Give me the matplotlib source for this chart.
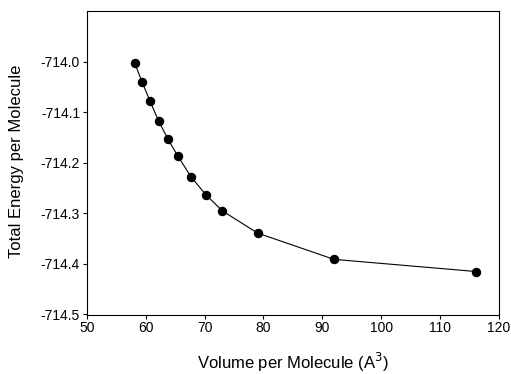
import numpy as np
import matplotlib
matplotlib.use("Agg")
import matplotlib.pyplot as plt

plt.rcParams['font.family'] = ['Liberation Sans', 'DejaVu Sans']

volume = [58.1, 59.4, 60.7, 62.2, 63.8, 65.4, 67.7, 70.2, 73.0, 79.0, 92.0, 116.1]
energy = [-714.003, -714.041, -714.078, -714.118, -714.154, -714.186,
          -714.228, -714.263, -714.295, -714.339, -714.391, -714.415]
xticks = [50, 60, 70, 80, 90, 100, 110, 120]
yticks = [-714.0, -714.1, -714.2, -714.3, -714.4, -714.5]

fig = plt.figure(figsize=(5.11, 3.74), dpi=100)
# axes box: left 87px, right 499px, top 11px, bottom 314px
ax = fig.add_axes([87/511, 1 - 314.5/374, (498.7 - 87)/511, (314.5 - 11)/374])

ax.plot(volume, energy, color='black', linewidth=0.8, marker='o',
        markersize=5.8, markerfacecolor='black', markeredgecolor='black')

ax.set_xlim(50, 120)
ax.set_ylim(-714.5, -713.9)
ax.set_xticks(xticks)
ax.set_yticks(yticks)
ax.set_yticklabels([f"{v:.1f}" for v in yticks])
ax.tick_params(direction='out', length=3, width=0.8, labelsize=10, pad=2)
for s in ax.spines.values():
    s.set_linewidth(0.8)

fig.text(16.5/511, 1 - 161/374, 'Total Energy per Molecule', fontsize=12,
         rotation=90, ha='center', va='center')
fig.text(0.5 * (87 + 498.7) / 511, 1 - 369/374, 'Volume per Molecule (A$^3$)',
         fontsize=12, ha='center', va='baseline')

fig.savefig('out.png', dpi=100)
